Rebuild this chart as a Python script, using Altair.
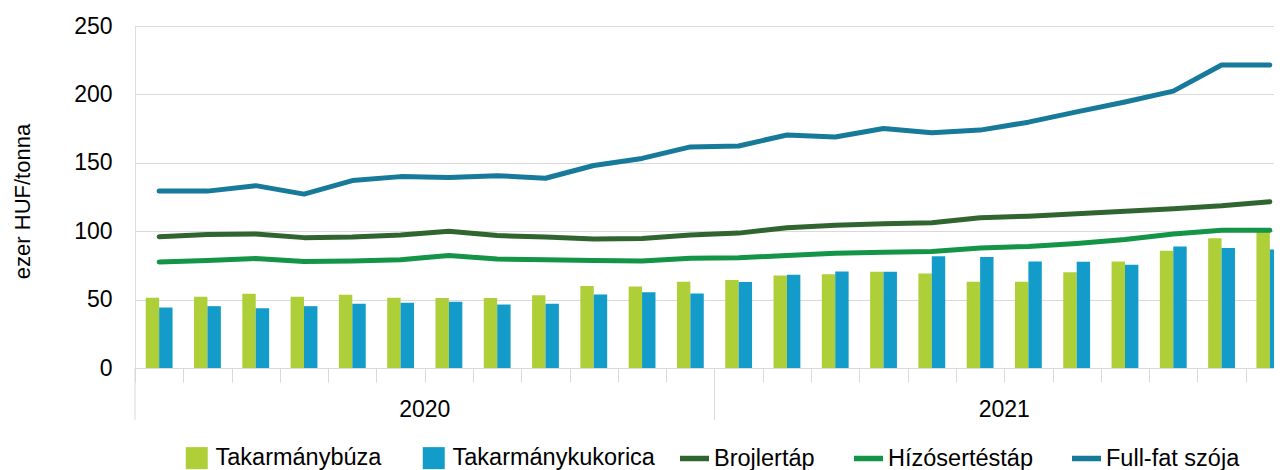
import altair as alt
import pandas as pd

FONT = "Liberation Sans"

months = ["2020-01", "2020-02", "2020-03", "2020-04", "2020-05", "2020-06",
          "2020-07", "2020-08", "2020-09", "2020-10", "2020-11", "2020-12",
          "2021-01", "2021-02", "2021-03", "2021-04", "2021-05", "2021-06",
          "2021-07", "2021-08", "2021-09", "2021-10", "2021-11", "2021-12"]

buza = [51.4, 52.1, 54.3, 52.1, 53.6, 51.4, 51.1, 51.1, 53.1, 60.0, 59.5, 63.1,
        64.3, 67.6, 68.6, 70.3, 69.1, 63.1, 63.1, 70.0, 77.9, 85.7, 94.8, 101.0]
kukorica = [44.2, 45.2, 43.7, 45.2, 46.9, 47.7, 48.4, 46.4, 46.9, 53.8, 55.3, 54.5,
            62.9, 68.1, 70.5, 70.3, 81.6, 81.1, 77.9, 77.6, 75.4, 88.9, 87.7, 86.7]
brojler = [96.0, 97.5, 98.0, 95.3, 95.7, 97.3, 100.0, 96.8, 95.8, 94.3, 94.7, 97.2,
           98.6, 102.5, 104.4, 105.4, 106.1, 109.8, 111.0, 112.7, 114.5, 116.4, 118.6, 121.6]
hizo = [77.5, 78.5, 80.0, 77.8, 78.2, 79.2, 82.3, 79.6, 79.2, 78.5, 78.3, 80.2,
        80.6, 82.2, 83.9, 84.6, 85.1, 87.8, 88.8, 91.0, 93.9, 98.0, 100.7, 100.7]
szoja = [129.3, 129.3, 133.3, 127.1, 137.0, 139.9, 139.2, 140.6, 138.7, 148.0, 153.2, 161.6,
         162.3, 170.3, 168.8, 175.1, 172.0, 173.9, 179.7, 187.2, 194.4, 202.4, 221.5, 221.5]

bar_names = ["Takarmánybúza", "Takarmánykukorica"]
bar_colors = ["#AECF38", "#139CC9"]
line_names = ["Brojlertáp", "Hízósertéstáp", "Full-fat szója"]
line_colors = ["#31652F", "#139447", "#177A9B"]

year_labels = ["2020", "2021"]
year_start = ["2020-01", "2021-01"]
year_mid = ["2020-07", "2021-07"]

PAD_L = 127
W = 1139          # visible plot width (the plot continues past the right edge)
X_RANGE = 1159    # full band range of the 24 months
H = 342

bar_rows = []
for name, vals in zip(bar_names, [buza, kukorica]):
    for m, v in zip(months, vals):
        bar_rows.append({"month": m, "series": name, "value": v})
bars_df = pd.DataFrame(bar_rows)

line_rows = []
for name, vals in zip(line_names, [brojler, hizo, szoja]):
    for m, v in zip(months, vals):
        line_rows.append({"month": m, "series": name, "value": v})
lines_df = pd.DataFrame(line_rows)

sep_df = pd.DataFrame({"month": year_start})
year_df = pd.DataFrame({"month": year_mid, "year": year_labels})

x_scale = alt.Scale(domain=months, range=[0, X_RANGE], paddingInner=0, paddingOuter=0)
x_axis = alt.Axis(labels=False, title=None, ticks=True, tickBand="extent", tickSize=14,
                  tickColor="#D9D9D9", tickWidth=1, domainColor="#D9D9D9", domainWidth=1,
                  grid=False)
y_scale = alt.Scale(domain=[0, 250], nice=False, zero=True)
y_axis = alt.Axis(values=[0, 50, 100, 150, 200, 250], title="ezer HUF/tonna",
                  domain=False, ticks=False, labelPadding=23, labelFontSize=23,
                  labelFont=FONT, labelColor="#000000", grid=True, gridColor="#D9D9D9",
                  gridWidth=1, titleFont=FONT, titleFontSize=22, titleFontWeight="normal",
                  titleColor="#000000", titleX=-113, titleY=175, titleBaseline="middle",
                  titleAlign="center", titleAngle=270)

bar_legend = alt.Legend(title=None, orient="none", legendX=50, legendY=420,
                        direction="horizontal", symbolType="square", symbolSize=484,
                        symbolStrokeWidth=0, labelFontSize=23.5, labelFont=FONT,
                        labelColor="#000000", columnPadding=40, labelOffset=7,
                        padding=0, labelLimit=400)
line_legend = alt.Legend(title=None, orient="none", legendX=542, legendY=415,
                         direction="horizontal", symbolType="stroke", symbolSize=841,
                         symbolStrokeWidth=5.5, labelFontSize=23.5, labelFont=FONT,
                         labelColor="#000000", columnPadding=28, labelOffset=2,
                         padding=0, labelLimit=400)

bars = alt.Chart(bars_df).mark_bar().encode(
    x=alt.X("month:N", scale=x_scale, axis=x_axis, sort=months),
    xOffset=alt.XOffset("series:N", sort=bar_names,
                        scale=alt.Scale(domain=bar_names, paddingInner=0, paddingOuter=0.8)),
    y=alt.Y("value:Q", scale=y_scale, axis=y_axis),
    color=alt.Color("series:N", scale=alt.Scale(domain=bar_names, range=bar_colors),
                    legend=bar_legend),
)

lines = alt.Chart(lines_df).mark_line(strokeWidth=5, strokeCap="round",
                                      strokeJoin="round").encode(
    x=alt.X("month:N", sort=months),
    y=alt.Y("value:Q"),
    color=alt.Color("series:N", scale=alt.Scale(domain=line_names, range=line_colors),
                    legend=line_legend),
)

seps = alt.Chart(sep_df).mark_rule(color="#D9D9D9", strokeWidth=1).encode(
    x=alt.X("month:N", sort=months, bandPosition=0),
    y=alt.value(H),
    y2=alt.value(H + 52),
)

years = alt.Chart(year_df).mark_text(fontSize=23, font=FONT, color="#000000",
                                     align="center", baseline="middle").encode(
    x=alt.X("month:N", sort=months, bandPosition=0),
    y=alt.value(384),
    text="year:N",
)

chart = alt.layer(bars, lines, seps, years).resolve_scale(
    color="independent"
).properties(
    width=W, height=H,
    autosize=alt.AutoSizeParams(type="none"),
    padding={"left": PAD_L, "top": 18, "right": 0, "bottom": 110},
).configure_view(stroke=None).configure(font=FONT)

chart.save("out.html", embed_options={"renderer": "svg", "actions": False})
